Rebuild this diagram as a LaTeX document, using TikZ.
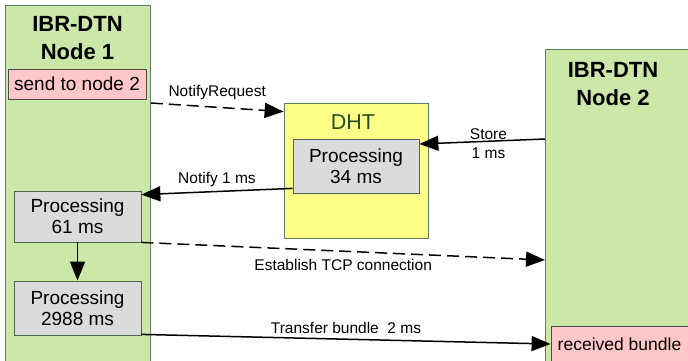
\documentclass[tikz,border=0pt]{standalone}
\usepackage{fontspec}
\setmainfont{Liberation Sans}
\usetikzlibrary{arrows.meta}

\definecolor{hostgreen}{RGB}{204,232,168}
\definecolor{hostedge}{RGB}{96,128,96}
\definecolor{notepink}{RGB}{255,199,199}
\definecolor{procgray}{RGB}{219,219,219}
\definecolor{dhtyellow}{RGB}{255,255,136}
\definecolor{dhttext}{RGB}{36,80,36}

\tikzset{
	host/.style={draw=hostedge, fill=hostgreen, line width=0.8pt, anchor=north west, inner sep=0pt},
	hosttitle/.style={font=\fontsize{22}{28}\selectfont\bfseries, align=center, inner sep=0pt},
	note/.style={draw=black!70, fill=notepink, line width=0.8pt, font=\fontsize{19}{21}\selectfont, inner sep=0pt},
	proc/.style={draw=hostedge!80!black, fill=procgray, line width=0.8pt, align=center, font=\fontsize{19}{21}\selectfont, inner sep=0pt},
	dhtbox/.style={draw=hostedge, fill=dhtyellow, line width=0.8pt, inner sep=0pt},
	msg/.style={line width=1.5pt, -{Triangle[length=19pt,width=15pt]}},
	msglabel/.style={font=\fontsize{15.5}{17}\selectfont, inner sep=0pt, align=center}
}

\begin{document}
\begin{tikzpicture}[x=1pt, y=-1pt]
			%%%%% START %%%%%
			\clip (0, 0) rectangle (688, 360);
			\fill[white] (0, 0) rectangle (688, 360);
			
			% the two hosts
			\node[host, minimum width=145pt, minimum height=362pt] (node1) at (5, 5) {};
			\node[hosttitle] (title1) at (77.5, 38) {IBR-DTN\\Node 1};
			\node[note, minimum width=138pt, minimum height=30pt] (send) at (77, 84) {send to node 2};
			
			\node[host, minimum width=150pt, minimum height=320pt] (node2) at (545, 49) {};
			\node[hosttitle] (title2) at (613, 84) {IBR-DTN\\Node 2};
			\node[note, minimum width=137pt, minimum height=36pt, font=\fontsize{17.5}{20}\selectfont] (recv) at (619.5, 344) {received bundle};
			
			% the DHT
			\node[dhtbox, minimum width=144pt, minimum height=135pt] (dht) at (356, 170.5) {};
			\node[font=\fontsize{21.5}{24}\selectfont, color=dhttext, inner sep=0pt] (dhtname) at (353, 122) {DHT};
			\node[proc, minimum width=126pt, minimum height=54pt] (proc34) at (356, 166) {Processing\\34 ms};
			
			% processing on node 1
			\node[proc, minimum width=127pt, minimum height=51pt] (proc61) at (77.5, 216.5) {Processing\\61 ms};
			\node[proc, minimum width=127pt, minimum height=54pt] (proc2988) at (77.5, 308) {Processing\\2988 ms};
			
			% messages
			\draw[msg, dash pattern=on 12pt off 6pt] ([yshift=-98pt]node1.north east) -- ([yshift=-9pt]dht.north west)
				node[msglabel, midway, above=7pt] {NotifyRequest};
			\draw[msg] ([yshift=-90pt]node2.north west) -- ([yshift=22pt]proc34.east)
				node[msglabel, pos=0.45, yshift=-2pt] {Store\\[2pt]1 ms};
			\draw[msg] ([yshift=5pt]proc34.south west) -- ([yshift=-4pt]proc61.north east)
				node[msglabel, midway, above=4pt] {Notify 1 ms};
			\draw[msg] (proc61.south) -- (proc2988.north);
			\draw[msg, dash pattern=on 12pt off 6pt] (proc61.south east) -- ([yshift=-211pt]node2.north west)
				node[msglabel, midway, below=7pt] {Establish TCP connection};
			\draw[msg] ([yshift=1pt]proc2988.south east) -- (recv.west)
				node[msglabel, midway, above=5pt] {Transfer bundle\ \ 2 ms};
			
			%%%%% END %%%%%
\end{tikzpicture}
\end{document}
